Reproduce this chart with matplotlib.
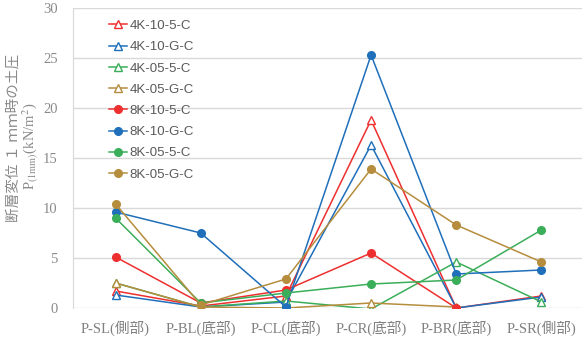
import matplotlib
matplotlib.use("Agg")
import matplotlib.pyplot as plt
import numpy as np

# 各位置の土圧 (断層変位 1mm 時)
positions = ['P-SL(側部)', 'P-BL(底部)', 'P-CL(底部)', 'P-CR(底部)', 'P-BR(底部)', 'P-SR(側部)']

k4_10_5 = [1.7, 0.2, 1.2, 18.8, 0.0, 1.2]
k4_10_g = [1.3, 0.1, 0.6, 16.3, 0.0, 1.1]
k4_05_5 = [2.5, 0.1, 0.7, -0.1, 4.6, 0.6]
k4_05_g = [2.5, 0.1, 0.0, 0.5, 0.1, np.nan]
k8_10_5 = [5.1, 0.5, 1.8, 5.5, 0.0, np.nan]
k8_10_g = [9.6, 7.5, 0.1, 25.3, 3.4, 3.8]
k8_05_5 = [9.0, 0.5, 1.5, 2.4, 2.8, 7.8]
k8_05_g = [10.4, 0.3, 2.9, 13.9, 8.3, 4.6]

red = '#ee2f2f'
blue = '#1f6fba'
green = '#3bae5a'
gold = '#b58d3d'

series = [
    ('4K-10-5-C', k4_10_5, red, '^'),
    ('4K-10-G-C', k4_10_g, blue, '^'),
    ('4K-05-5-C', k4_05_5, green, '^'),
    ('4K-05-G-C', k4_05_g, gold, '^'),
    ('8K-10-5-C', k8_10_5, red, 'o'),
    ('8K-10-G-C', k8_10_g, blue, 'o'),
    ('8K-05-5-C', k8_05_5, green, 'o'),
    ('8K-05-G-C', k8_05_g, gold, 'o'),
]

serif = ['Liberation Serif', 'Noto Sans CJK JP']
plt.rcParams['mathtext.fontset'] = 'stix'

fig = plt.figure(figsize=(5.82, 3.38), dpi=100)
ax = fig.add_axes([73 / 582, 30 / 338, 511 / 582, 300 / 338])

x = np.arange(len(positions))
for name, vals, col, mk in series:
    if mk == '^':
        ax.plot(x, vals, color=col, lw=1.1, marker='^', ms=5.5, mfc='white',
                mec=col, mew=1.0, label=name)
    else:
        ax.plot(x, vals, color=col, lw=1.1, marker='o', ms=5.5, mfc=col,
                mec=col, label=name)

ax.set_xlim(-0.5, len(positions) - 0.5)
ax.set_ylim(0, 30)
ax.set_yticks(range(0, 31, 5))
ax.set_xticks(x)
ax.set_xticklabels(positions, family=serif, fontsize=10.5, color='#808080')
for lab in ax.get_yticklabels():
    lab.set_family(serif)
    lab.set_fontsize(10.5)
    lab.set_color('#8a8a8a')
ax.tick_params(axis='both', length=0)
ax.tick_params(axis='y', pad=11)
ax.tick_params(axis='x', pad=9)

ax.grid(axis='y', color='#d9d9d9', lw=1.0)
ax.set_axisbelow(True)
for s in ['top', 'right', 'bottom']:
    ax.spines[s].set_visible(False)
ax.spines['left'].set_color('#d9d9d9')

fig.text(14 / 582, 1 - 138 / 338, '断層変位 １ ｍｍ時の土圧', rotation=90,
         ha='center', va='center', family=serif, fontsize=10.5, color='#8a8a8a')
fig.text(31 / 582, 1 - 146 / 338, r'P$_{\mathrm{(1mm)}}$(kN/m$^{2}$)', rotation=90,
         ha='center', va='center', family=serif, fontsize=10.5, color='#8a8a8a')

leg = ax.legend(loc='upper left', bbox_to_anchor=(97 / 582, 1 - 8 / 338),
                bbox_transform=fig.transFigure, frameon=False,
                prop={'family': 'Liberation Sans', 'size': 9.5},
                labelspacing=0.68, handlelength=1.4, handletextpad=0.15)
for t in leg.get_texts():
    t.set_color('#595959')

fig.savefig('out.png', dpi=100)
